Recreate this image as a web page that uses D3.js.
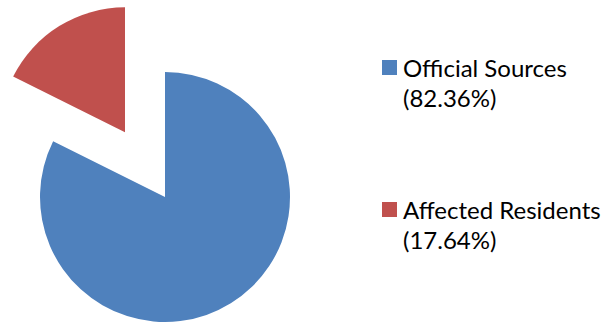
<!DOCTYPE html>
<html>
<head>
<meta charset="utf-8">
<script src="https://cdn.jsdelivr.net/npm/d3@7"></script>
<style>
  html, body { margin: 0; padding: 0; background: #fff; }
  svg { display: block; }
</style>
</head>
<body>
<svg id="chart" width="605" height="324"></svg>
<script>
// Share of information sources
const categories = ["Official Sources", "Affected Residents"];
const values = [82.36, 17.64];
const labels = ["(82.36%)", "(17.64%)"];
const colors = ["#4F81BD", "#C0504D"];
const exploded = [false, true];

const svg = d3.select("#chart");
const cx = 165, cy = 197, radius = 125, explodeDist = 76;

const pie = d3.pie().sort(null).value(d => d.value);
const arc = d3.arc().innerRadius(0).outerRadius(radius);

const data = categories.map((c, i) => ({ name: c, value: values[i], color: colors[i], explode: exploded[i] }));

const g = svg.append("g").attr("transform", `translate(${cx},${cy})`);
g.selectAll("path")
  .data(pie(data))
  .join("path")
  .attr("d", arc)
  .attr("fill", d => d.data.color)
  .attr("transform", d => {
    if (!d.data.explode) return null;
    const mid = (d.startAngle + d.endAngle) / 2;
    return `translate(${Math.sin(mid) * explodeDist},${-Math.cos(mid) * explodeDist})`;
  });

// Legend
const legendY = [60, 202];
const legend = svg.append("g");
data.forEach((d, i) => {
  legend.append("rect")
    .attr("x", 382).attr("y", legendY[i])
    .attr("width", 15).attr("height", 15)
    .attr("fill", d.color);
  const t = legend.append("text")
    .attr("x", 403).attr("y", legendY[i] + 17)
    .attr("font-family", "Lato, 'Open Sans', sans-serif")
    .attr("font-size", 24)
    .attr("fill", "#000");
  t.append("tspan").attr("x", 403).text(d.name);
  t.append("tspan").attr("x", 403).attr("dy", 30).text(labels[i]);
});
</script>
</body>
</html>
